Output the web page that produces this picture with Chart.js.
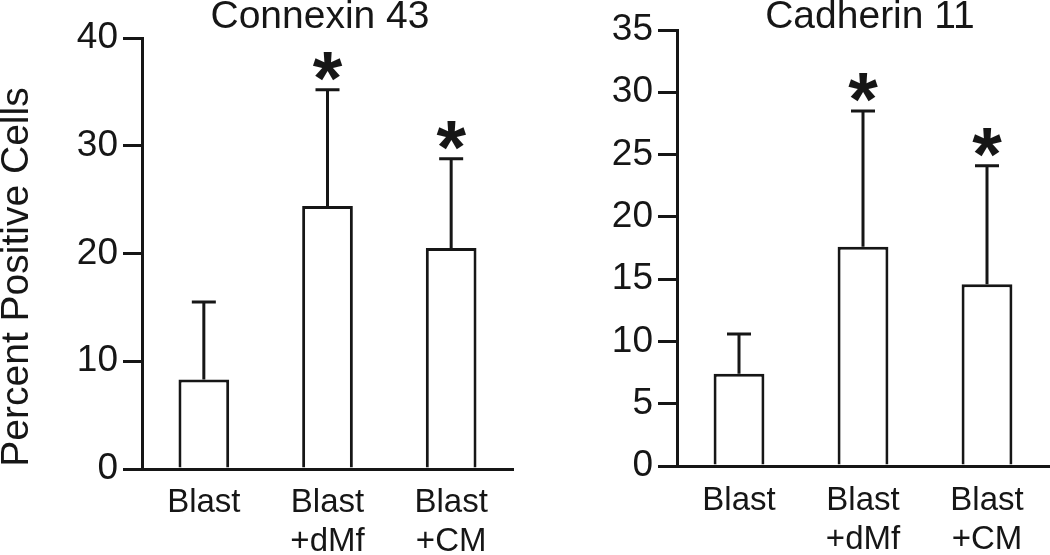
<!DOCTYPE html>
<html>
<head>
<meta charset="utf-8">
<script src="https://cdn.jsdelivr.net/npm/chart.js@4.4.0/dist/chart.umd.min.js"></script>
<style>
body { margin: 0; background: #fff; }
#wrap { position: relative; width: 1050px; height: 555px; overflow: hidden; }
canvas { position: absolute; top: 0; }
</style>
</head>
<body>
<div id="wrap">
    <canvas id="connexinChart" width="520" height="555" style="left:0px"></canvas>
    <canvas id="cadherinChart" width="520" height="555" style="left:530px"></canvas>
</div>
<script>
// data
const categories = [['Blast'], ['Blast', '+dMf'], ['Blast', '+CM']];

const connexinMeans = [8.3, 24.4, 20.5];
const connexinSD = [7.2, 10.8, 8.3];
const connexinSig = [false, true, true];

const cadherinMeans = [7.4, 17.6, 14.6];
const cadherinSD = [3.2, 10.9, 9.5];
const cadherinSig = [false, true, true];

const INK = '#161616';
const FONT = "'Liberation Sans', Arial, sans-serif";

const errorBarPlugin = {
    id: 'errorBars',
    afterDatasetsDraw: (chart, args, opts) => {
        const {ctx, scales} = chart;
        const meta = chart.getDatasetMeta(0);
        ctx.save();
        ctx.strokeStyle = INK;
        ctx.fillStyle = INK;
        ctx.lineWidth = 3;
        meta.data.forEach((bar, i) => {
            const yTop = scales.y.getPixelForValue(opts.means[i] + opts.sd[i]);
            ctx.beginPath();
            ctx.moveTo(bar.x, bar.y);
            ctx.lineTo(bar.x, yTop);
            ctx.moveTo(bar.x - 12, yTop);
            ctx.lineTo(bar.x + 12, yTop);
            ctx.stroke();
            if (opts.sig[i]) {
                ctx.font = 'bold 76px ' + FONT;
                ctx.textAlign = 'center';
                ctx.textBaseline = 'alphabetic';
                ctx.fillText('*', bar.x, yTop + 14);
            }
        });
        ctx.restore();
    }
};

const panelTextPlugin = {
    id: 'panelText',
    afterDraw: (chart, args, opts) => {
        const {ctx} = chart;
        ctx.save();
        ctx.fillStyle = INK;
        ctx.font = '39px ' + FONT;
        ctx.textAlign = 'center';
        ctx.textBaseline = 'middle';
        ctx.fillText(opts.title, opts.titleX, 17);
        if (opts.yTitle) {
            ctx.translate(17, 277);
            ctx.rotate(-Math.PI / 2);
            ctx.fillText(opts.yTitle, 0, 0);
        }
        ctx.restore();
    }
};

function makePanel(id, means, sd, sig, cfg) {
    const ctx = document.getElementById(id).getContext('2d');
    return new Chart(ctx, {
        type: 'bar',
        data: {
            labels: categories,
            datasets: [{
                data: means,
                backgroundColor: '#ffffff',
                borderColor: INK,
                borderWidth: 3,
                borderSkipped: 'bottom',
                barPercentage: 0.41,
                categoryPercentage: 1
            }]
        },
        options: {
            responsive: false,
            animation: false,
            layout: {
                padding: {left: 0, right: cfg.padRight, top: cfg.padTop, bottom: 0}
            },
            scales: {
                x: {
                    afterFit: (scale) => { scale.height = cfg.xHeight; },
                    grid: {display: false, drawTicks: false},
                    border: {display: true, color: INK, width: 3},
                    ticks: {
                        color: INK,
                        padding: cfg.xPad,
                        maxRotation: 0,
                        font: {family: FONT, size: 33, lineHeight: 1.18}
                    }
                },
                y: {
                    min: 0,
                    max: cfg.yMax,
                    afterFit: (scale) => { scale.width = cfg.yWidth; },
                    grid: {
                        display: true,
                        drawOnChartArea: false,
                        drawTicks: true,
                        tickLength: 19,
                        lineWidth: 3,
                        color: INK
                    },
                    border: {display: true, color: INK, width: 3},
                    ticks: {
                        stepSize: cfg.yStep,
                        color: INK,
                        padding: 5,
                        font: {family: FONT, size: 37}
                    }
                }
            },
            plugins: {
                legend: {display: false},
                tooltip: {enabled: false},
                errorBars: {means: means, sd: sd, sig: sig},
                panelText: {title: cfg.title, titleX: cfg.titleX, yTitle: cfg.yTitle}
            }
        },
        plugins: [errorBarPlugin, panelTextPlugin]
    });
}

makePanel('connexinChart', connexinMeans, connexinSD, connexinSig, {
    title: 'Connexin 43', titleX: 320, yTitle: 'Percent Positive Cells',
    yMax: 40, yStep: 10, yWidth: 142, padTop: 38, padRight: 7, xHeight: 86, xPad: 14
});

makePanel('cadherinChart', cadherinMeans, cadherinSD, cadherinSig, {
    title: 'Cadherin 11', titleX: 340, yTitle: null,
    yMax: 35, yStep: 5, yWidth: 147, padTop: 30, padRight: 1, xHeight: 89, xPad: 15
});
</script>
</body>
</html>
